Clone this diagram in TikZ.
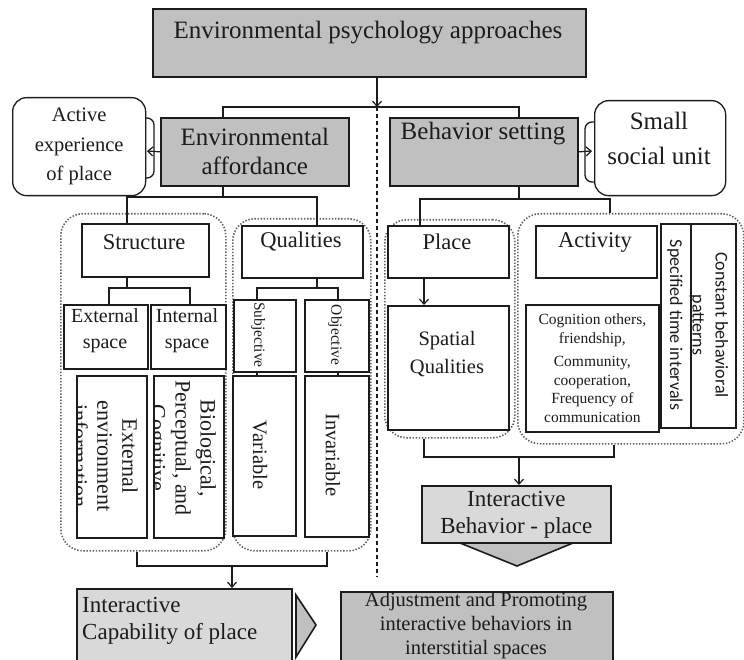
\documentclass[tikz,border=0pt]{standalone}
\usepackage{fontspec}
\setmainfont{Liberation Serif}
\newfontfamily\carl{Carlito}
\usetikzlibrary{arrows.meta}
\newcommand\fs[2]{\fontsize{#1}{#2}\selectfont}
\definecolor{gfill}{RGB}{192,192,192}
\definecolor{lfill}{RGB}{217,217,217}
\definecolor{ink}{RGB}{28,28,28}
\definecolor{dotc}{RGB}{95,95,95}
\begin{document}
\begin{tikzpicture}[x=1pt,y=-1pt,
 bx/.style={draw=ink, line width=1.7pt, fill=white, inner sep=0pt, anchor=north west, text=ink},
 gbx/.style={bx, fill=gfill},
 lbx/.style={bx, fill=lfill},
 rbx/.style={bx, rounded corners=14pt, line width=1.3pt},
 grp/.style={draw=dotc, line width=1.6pt, dash pattern=on 1.4pt off 1.7pt, rounded corners=22pt, inner sep=0pt, anchor=north west},
 con/.style={draw=ink, line width=1.2pt},
 arr/.style={con, -{Straight Barb[length=5pt,width=9pt,line width=1.2pt]}},
 txt/.style={text=ink, inner sep=0pt, align=center},
]
\clip (0,0) rectangle (744,660);
\fill[white] (0,0) rectangle (744,660);

% ---- junction coordinates
\coordinate (j0) at (377,107);
\coordinate (j1) at (223,107);
\coordinate (j2) at (519,107);
\coordinate (dend) at (377,577);
\coordinate (j3) at (223,197);
\coordinate (j4) at (127,197);
\coordinate (j5) at (317,197);
\coordinate (j6) at (127,288);
\coordinate (j7) at (109,288);
\coordinate (j8) at (190,288);
\coordinate (j9) at (317,288);
\coordinate (j10) at (257,288);
\coordinate (j11) at (338,288);
\coordinate (k0) at (519,199);
\coordinate (k1) at (420,199);
\coordinate (k2) at (610,199);
\coordinate (b1) at (137,566);
\coordinate (b2) at (327,566);
\coordinate (b3) at (232,566);
\coordinate (c1) at (424,457);
\coordinate (c2) at (614,457);
\coordinate (c3) at (519,457);
\coordinate (abr) at (147,151);
\coordinate (sbr) at (592,151);

% ---- dotted groups
\node[grp, minimum width=165pt, minimum height=337pt] (gL) at (60,213) {};
\node[grp, minimum width=138pt, minimum height=332pt] (gQ) at (232,218) {};
\node[grp, minimum width=130pt, minimum height=218pt] (gP) at (384,219) {};
\node[grp, minimum width=226pt, minimum height=230pt] (gA) at (517,213) {};

% ---- top level
\node[gbx, minimum width=433pt, minimum height=68pt] (top) at (152,8) {};
\node[txt, font=\fs{25}{30}] (topt) at (368,33) {Environmental psychology approaches};

\node[gbx, minimum width=188pt, minimum height=68pt, font=\fs{25}{29}, align=center] (envaff) at (160,117) {Environmental\\affordance};
\node[rbx, minimum width=133pt, minimum height=98pt, font=\fs{20.5}{29.5}, align=center] (active) at (12,97) {Active\\experience\\of place};

\node[gbx, minimum width=188pt, minimum height=68pt] (behset) at (389,117) {};
\node[txt, font=\fs{25}{30}] (behsett) at (483,134) {Behavior setting};
\node[rbx, minimum width=131pt, minimum height=95pt] (small) at (594,100) {};
\node[txt, font=\fs{25}{35}] (smallt) at (659,138) {Small\\social unit};

% ---- left branch
\node[bx, minimum width=127pt, minimum height=53pt] (struct) at (81,223) {};
\node[txt, font=\fs{22.5}{27}] (structt) at (144,242) {Structure};
\node[bx, minimum width=121pt, minimum height=52pt] (qual) at (241,225) {};
\node[txt, font=\fs{22.5}{27}] (qualt) at (301,242) {Qualities};

\node[bx, minimum width=84pt, minimum height=64pt] (extsp) at (63,304) {};
\node[txt, font=\fs{20}{26}] (extspt) at (105,331) {External\\space};
\node[bx, minimum width=75pt, minimum height=64pt] (intsp) at (150,304) {};
\node[txt, font=\fs{20}{26}] (intspt) at (187,331) {Internal\\space};

\node[bx, minimum width=62pt, minimum height=72pt] (subj) at (233,299) {};
\node[txt, rotate=-90, font=\fs{15.5}{18}] (subjt) at (258,335) {Subjective};
\node[bx, minimum width=64pt, minimum height=72pt] (obj) at (304,299) {};
\node[txt, rotate=-90, font=\fs{15.5}{18}] (objt) at (335,335) {Objective};

\node[bx, minimum width=70pt, minimum height=162pt] (extinfo) at (76,375) {};
\begin{scope}
\clip (77,376) rectangle (145,536);
\node[txt, rotate=-90, font=\fs{22}{25}] (extinfot) at (105,456) {External\\environment\\information};
\end{scope}
\node[bx, minimum width=70pt, minimum height=162pt] (bio) at (153,375) {};
\begin{scope}
\clip (154,376) rectangle (222,536);
\node[txt, rotate=-90, font=\fs{22}{25}] (biot) at (181,448) {Biological,\\Perceptual, and\\Cognitive};
\end{scope}
\node[bx, minimum width=63pt, minimum height=160pt] (var) at (232,375) {};
\node[txt, rotate=-90, font=\fs{20.5}{24}] (vart) at (260,455) {Variable};
\node[bx, minimum width=64pt, minimum height=161pt] (invar) at (304,375) {};
\node[txt, rotate=-90, font=\fs{20.5}{24}] (invart) at (333,455) {Invariable};

% ---- right branch
\node[bx, minimum width=121pt, minimum height=52pt] (place) at (387,225) {};
\node[txt, font=\fs{22.5}{27}] (placet) at (447,242) {Place};
\node[bx, minimum width=121pt, minimum height=52pt] (activ) at (535,225) {};
\node[txt, font=\fs{22.5}{27}] (activt) at (595,242) {Activity};
\node[bx, minimum width=121pt, minimum height=124pt] (spat) at (387,305) {};
\node[txt, font=\fs{20.5}{28}] (spatt) at (447,354) {Spatial\\Qualities};
\node[bx, minimum width=133pt, minimum height=127pt, font=\fs{15.5}{18.5}, align=center] (acttx) at (525,304) {Cognition others,\\friendship,\\[5pt]Community,\\cooperation,\\Frequency of\\communication};
\node[bx, minimum width=30pt, minimum height=204pt] (spec) at (660,223) {};
\node[txt, rotate=-90, font=\carl\fs{18}{23}] (spect) at (675,325) {Specified time intervals};
\node[bx, minimum width=45pt, minimum height=204pt] (const) at (690,223) {};
\node[txt, rotate=-90, font=\carl\fs{18}{23}] (constt) at (709,325) {Constant behavioral\\patterns};

\node[lbx, minimum width=189pt, minimum height=57pt, font=\fs{23}{27}, align=center] (ibp) at (421,485) {Interactive\\Behavior - place};

% ---- bottom row
\node[lbx, minimum width=215pt, minimum height=82pt] (icap) at (76,588) {};
\node[txt, anchor=west, align=left, font=\fs{23}{27}] (icapt) at (82,621) {Interactive\\Capability of place};
\node[gbx, minimum width=272pt, minimum height=79pt] (adj) at (340,591) {};
\node[txt, font=\fs{20.5}{24}] (adjt) at (476,626) {Adjustment and Promoting\\interactive behaviors in\\interstitial spaces};

% ---- triangles
\draw[draw=ink, line width=1.6pt, fill=gfill, line join=miter] (460,543) -- (573,543) -- (517,566) -- cycle;
\draw[draw=ink, line width=1.6pt, fill=gfill, line join=miter] (296,595) -- (316,625) -- (296,657) -- cycle;

% ---- brackets
\draw[con, line width=1.3pt, rounded corners=7pt] (145,118) -- (154,118) -- (154,178) -- (145,178);
\draw[con, line width=1.3pt, rounded corners=7pt] (594,122) -- (585,122) -- (585,182) -- (594,182);

% ---- connectors
\draw[arr] (top.south -| j0) -- (j0);
\draw[con] (envaff.north -| j1) -- (j1) -- (j2) -- (behset.north -| j2);
\draw[con, line width=1.4pt, dash pattern=on 4pt off 3pt] (j0) -- (dend);
\draw[arr] (envaff.west) -- (abr);
\draw[arr] (behset.east) -- (sbr);

\draw[con] (envaff.south -| j3) -- (j3);
\draw[con] (struct.north -| j4) -- (j4) -- (j5) -- (qual.north -| j5);
\draw[con] (struct.south -| j6) -- (j6);
\draw[con] (extsp.north -| j7) -- (j7) -- (j8) -- (intsp.north -| j8);
\draw[con] (qual.south -| j9) -- (j9);
\draw[con] (subj.north -| j10) -- (j10) -- (j11) -- (obj.north -| j11);
\draw[con] (subj.south -| j10) -- (var.north -| j10);
\draw[con] (obj.south -| j11) -- (invar.north -| j11);
\draw[con] (gL.south -| b1) -- (b1) -- (b2) -- (gQ.south -| b2);
\draw[arr] (b3) -- (icap.north -| b3);

\draw[con] (behset.south -| k0) -- (k0);
\draw[con] (place.north -| k1) -- (k1) -- (k2) -- (gA.north -| k2);
\draw[arr] (place.south -| 424,0) -- (spat.north -| 424,0);
\draw[con] (gP.south -| c1) -- (c1) -- (c2) -- (gA.south -| c2);
\draw[arr] (c3) -- (ibp.north -| c3);
\end{tikzpicture}
\end{document}
